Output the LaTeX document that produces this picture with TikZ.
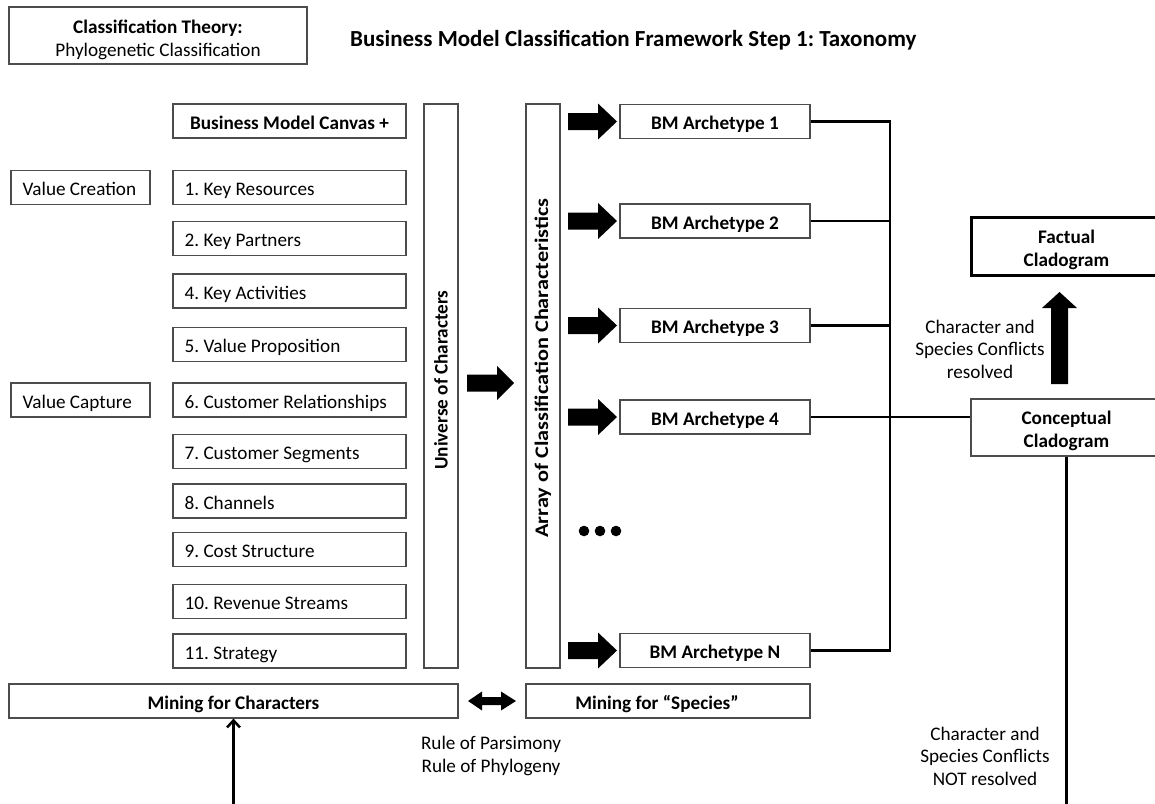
\documentclass[tikz,border=0pt]{standalone}
\usepackage{fontspec}
\setmainfont{Carlito}
\usetikzlibrary{arrows.meta}
\newcommand\fsz{\fontsize{19.2}{22.5}\selectfont}
\frenchspacing
\tikzset{
  bx/.style={draw=black!70, line width=1.2pt, minimum height=34pt, inner sep=0pt, font=\fsz},
  bbx/.style={bx, font=\fsz\bfseries, text height=16pt, text depth=0pt},
  lbox/.style={bx, minimum width=233pt},
  vbox/.style={bx, minimum width=139pt},
  ltx/.style={anchor=base west, inner sep=0pt, font=\fsz},
  tall/.style={bx, minimum width=34pt, minimum height=564pt},
  arch/.style={bbx, minimum width=190pt},
  lbl/.style={inner sep=0pt, align=center, font=\fsz},
  conn/.style={line width=2.5pt, black},
  rarrow/.pic={\fill (0,-8.5) -- (30,-8.5) -- (30,-18) -- (49,0) -- (30,18) -- (30,8.5) -- (0,8.5) -- cycle;}
}
\begin{document}
\begin{tikzpicture}[x=1pt,y=-1pt]
\clip (0,0) rectangle (1155,803);
\fill[white] (0,0) rectangle (1155,803);

% header
\node[bx, minimum width=298pt, minimum height=57pt] (theory) at (158,35.5) {};
\node[lbl] (theoryt) at (158,40) {\textbf{Classification Theory:}\\Phylogenetic Classification};
\node[anchor=base west, inner sep=0pt, font=\fontsize{23}{27}\selectfont\bfseries] (title) at (350,46)
  {Business Model Classification Framework Step 1: Taxonomy};

% left column
\node[bbx, minimum width=233pt] (bmc) at (289.5,121) {Business Model Canvas +};
\foreach \n/\yy/\t in {k1/187.5/{1. Key Resources}, k2/238.5/{2. Key Partners},
    k4/291/{4. Key Activities}, k5/344.5/{5. Value Proposition},
    k6/400/{6. Customer Relationships}, k7/451.5/{7. Customer Segments},
    k8/501/{8. Channels}, k9/549.5/{9. Cost Structure},
    k10/601.5/{10. Revenue Streams}, k11/651/{11. Strategy}} {
  \node[lbox] (\n) at (289.5,\yy) {};
  \node[ltx] (\n-t) at ([shift={(12,8)}]\n.west) {\t};
}
\node[vbox] (vcr) at (80.5,187.5) {};
\node[ltx] (vcr-t) at ([shift={(12,8)}]vcr.west) {Value Creation};
\node[vbox] (vca) at (80.5,400) {};
\node[ltx] (vca-t) at ([shift={(12,8)}]vca.west) {Value Capture};

% tall boxes
\node[tall] (univ) at (441,386) {};
\node[rotate=90, inner sep=0pt, font=\fsz\bfseries] (univt) at (441,380) {Universe of Characters};
\node[tall] (arr) at (543,386) {};
\node[rotate=90, inner sep=0pt, font=\fsz\bfseries] (arrt) at (543,368)
  {\scalebox{1.16}[1]{Array of Classification Characteristics}};

% big arrow
\fill (467,374.5) -- (497,374.5) -- (497,366) -- (514,383) -- (497,400) -- (497,391.5) -- (467,391.5) -- cycle;

% archetypes
\node[arch] (a1) at (715,121.5) {BM Archetype 1};
\node[arch] (a2) at (715,221) {BM Archetype 2};
\node[arch] (a3) at (715,325.5) {BM Archetype 3};
\node[arch] (a4) at (715,417) {BM Archetype 4};
\node[arch] (aN) at (715,650.5) {BM Archetype N};
\foreach \yy in {121.5,221,325.5,417,650.5} { \pic at (568,\yy) {rarrow}; }
\foreach \xx in {584,600,616} { \fill (\xx,531) circle (5.3); }

% mining boxes
\node[bbx, minimum width=449pt] (mc) at (233.5,701) {Mining for Characters};
\node[bx, minimum width=284pt] (ms) at (668,701) {};
\node[inner sep=0pt, font=\fsz\bfseries, text height=16pt, text depth=0pt] (mst) at (657,701) {Mining for ``Species''};
\fill (468,701) -- (482,691.5) -- (482,697) -- (501,697) -- (501,691.5) -- (516,701)
  -- (501,710.5) -- (501,705) -- (482,705) -- (482,710.5) -- cycle;
\node[lbl] (rules) at (491,756) {Rule of Parsimony\\Rule of Phylogeny};

% cladograms
\node[draw=black, line width=3pt, minimum width=191pt, minimum height=58pt, inner sep=0pt] (fact) at (1066.5,246) {};
\node[lbl, font=\fsz\bfseries] (factt) at (1066.5,250) {Factual\\Cladogram};
\node[bx, minimum width=191pt, minimum height=57pt] (conc) at (1066.5,427.5) {};
\node[lbl, font=\fsz\bfseries] (conct) at (1066.5,431) {Conceptual\\Cladogram};
\fill (1051,384) -- (1051,308) -- (1042,308) -- (1059.5,292) -- (1077,308) -- (1068,308)
  -- (1068,384) -- cycle;
\node[lbl] (res) at (980,349) {Character and\\Species Conflicts\\resolved};
\node[lbl] (nres) at (985,756) {Character and\\Species Conflicts\\NOT resolved};

% connectors
\coordinate (vx) at (890,0);
\coordinate (bot) at (0,812);
\draw[conn] (a1.east) -- (a1.east -| vx) -- (aN.east -| vx) -- (aN.east);
\draw[conn] (a2.east) -- (a2.east -| vx);
\draw[conn] (a3.east) -- (a3.east -| vx);
\draw[conn] (a4.east) -- (a4.east -| conc.west);
\draw[conn] (conc.south) -- (conc.south |- bot);
\draw[conn, -{Straight Barb[length=7pt,width=13pt]}] (mc.south |- bot) -- (mc.south);
\end{tikzpicture}
\end{document}
